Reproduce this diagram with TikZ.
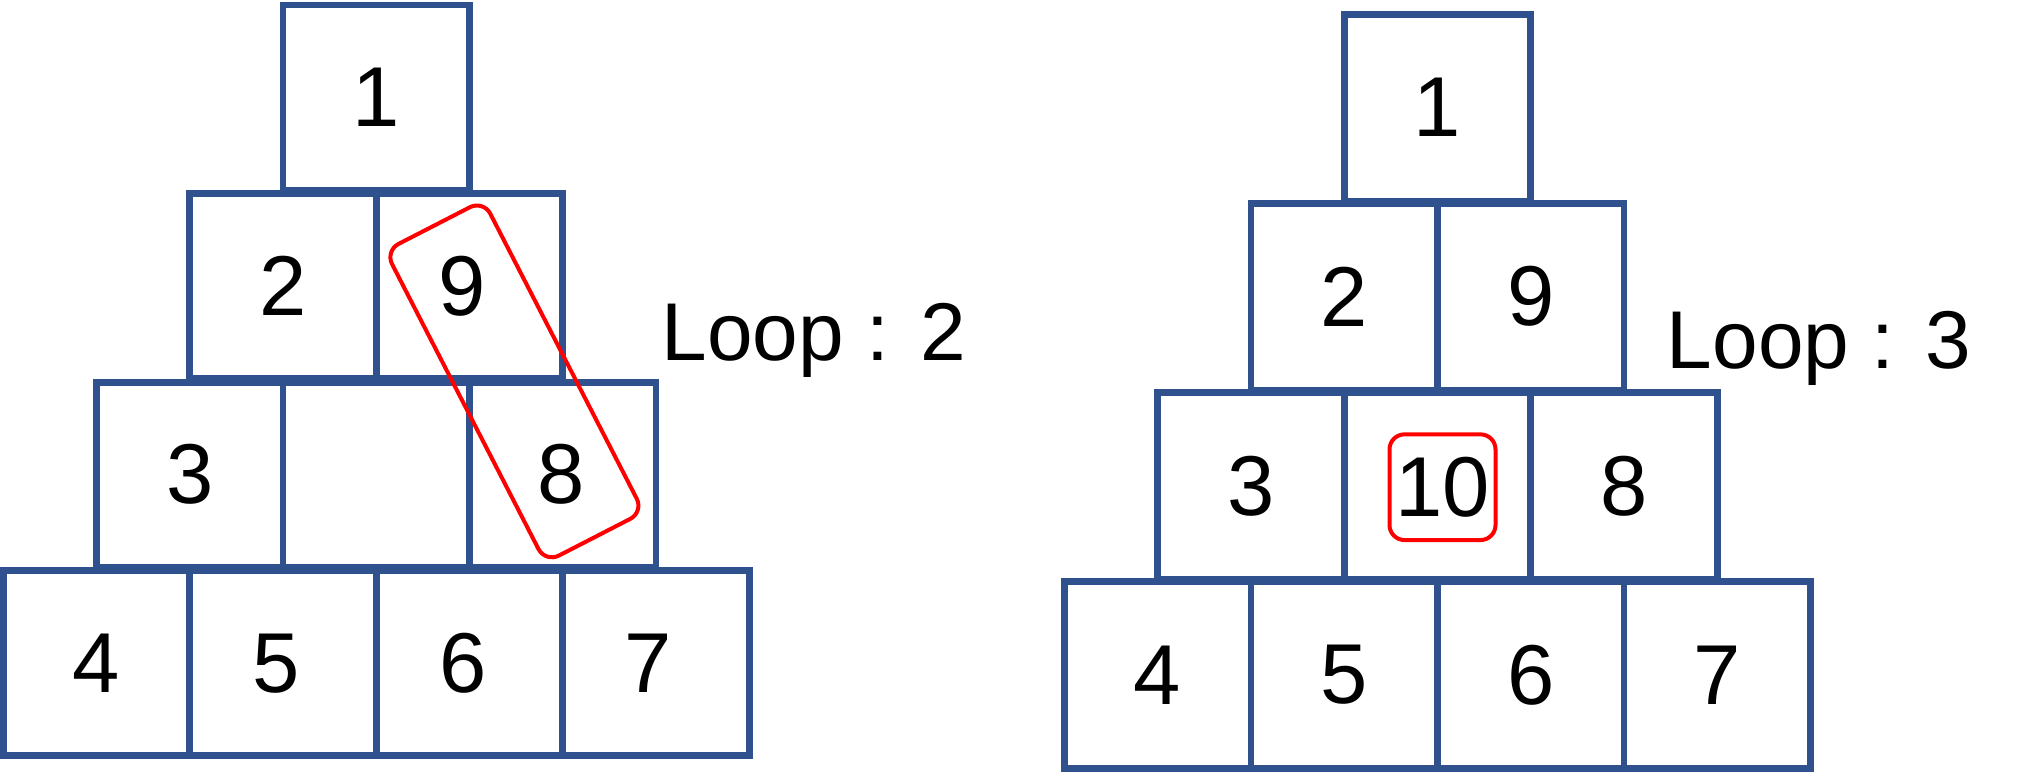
\documentclass[tikz,border=0pt]{standalone}
\usepackage{fontspec}
\setmainfont{Liberation Sans}
\usetikzlibrary{calc}
\definecolor{boxblue}{RGB}{47,82,143}
\definecolor{loopred}{RGB}{255,0,0}
\begin{document}
\begin{tikzpicture}[x=1pt,y=-1pt,
  cellL/.style={draw=boxblue,line width=6.7pt,inner sep=0pt,minimum width=186.5pt,minimum height=185pt},
  cellR/.style={draw=boxblue,line width=6.7pt,inner sep=0pt,minimum width=186.6pt,minimum height=186.6pt},
  digit/.style={font=\fontsize{85}{100}\selectfont,inner sep=0pt},
  looptext/.style={font=\fontsize{82}{100}\selectfont,inner sep=0pt,anchor=base west},
  redframe/.style={draw=loopred,line width=4pt,rounded corners=15pt,inner sep=0pt}]
\useasboundingbox (0,0) rectangle (2032,776);
% left pyramid cells
\foreach \r in {1,...,4}{
  \foreach \c in {1,...,\r}{
    \pgfmathsetmacro\cx{3.3+(4-\r)*93.25+(\c-0.5)*186.5}
    \pgfmathsetmacro\cy{5+(\r-1)*188.6+92.5}
    \node[cellL] (L\r\c) at (\cx,\cy) {};
  }
}
% right pyramid cells
\foreach \r in {1,...,4}{
  \foreach \c in {1,...,\r}{
    \pgfmathsetmacro\cx{1064.3+(4-\r)*93.3+(\c-0.5)*186.6}
    \pgfmathsetmacro\cy{14.3+(\r-1)*189.1+93.3}
    \node[cellR] (R\r\c) at (\cx,\cy) {};
  }
}
% left digits
\node[digit] (tL11) at (L11) {1};
\node[digit] (tL21) at (L21) {2};
\node[digit,xshift=-7pt] (tL22) at (L22) {9};
\node[digit] (tL31) at (L31) {3};
\node[digit,xshift=-2pt] (tL33) at (L33) {8};
\node[digit] (tL41) at (L41) {4};
\node[digit,xshift=-7pt] (tL42) at (L42) {5};
\node[digit,xshift=-6pt] (tL43) at (L43) {6};
\node[digit,xshift=-8pt] (tL44) at (L44) {7};
% right digits
\node[digit] (tR11) at (R11) {1};
\node[digit] (tR21) at (R21) {2};
\node[digit] (tR22) at (R22) {9};
\node[digit] (tR31) at (R31) {3};
\node[digit] (tR33) at (R33) {8};
\node[digit] (tR41) at (R41) {4};
\node[digit] (tR42) at (R42) {5};
\node[digit] (tR43) at (R43) {6};
\node[digit] (tR44) at (R44) {7};
\node[digit,redframe,minimum width=106pt,minimum height=105.7pt] (tR32) at ($(R32)+(5,1.4)$) {10};
% red loop frame on the left
\node[redframe,rotate=27.2,minimum width=110.4pt,minimum height=350.5pt] (loopframe) at (514.4,381.4) {};
% loop labels
\node[looptext] (loopL) at (661.5,360) {Loop : 2};
\node[looptext] (loopR) at (1666.6,368.8) {Loop : 3};
\end{tikzpicture}
\end{document}
